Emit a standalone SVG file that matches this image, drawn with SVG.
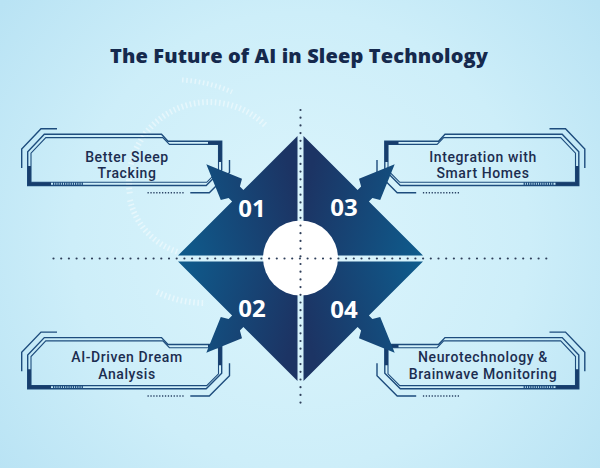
<svg xmlns="http://www.w3.org/2000/svg" xmlns:xlink="http://www.w3.org/1999/xlink" width="600" height="468" viewBox="0 0 600 468">
<style>
.fl{fill:none;stroke:#1d4c7d;stroke-width:1.4;stroke-linejoin:miter}
.fl2{fill:none;stroke:#1d4c7d;stroke-width:1.1}
.thick{fill:none;stroke:#173d6c;stroke-width:3.3;stroke-linecap:butt}
.hatch{fill:none;stroke:#1d4c7d;stroke-width:3.3;stroke-dasharray:1.3 0.9}
.dotb{fill:none;stroke:#2b4466;stroke-width:1.6;stroke-dasharray:1.3 1.6}
.axis{fill:none;stroke:#2f3f5a;stroke-width:2.2;stroke-linecap:round;stroke-dasharray:0 7.7}
.lbl{font-family:Roboto,"Liberation Sans",sans-serif;font-size:14px;font-weight:500;letter-spacing:0.6px;fill:#1c2d50;text-anchor:middle}
.num{font-family:"Open Sans","Liberation Sans",sans-serif;font-size:24px;font-weight:700;fill:#ffffff;text-anchor:middle}
.title{font-family:"Open Sans","Liberation Sans",sans-serif;font-size:20px;font-weight:800;fill:#15294d;text-anchor:middle}
.ring{fill:none;stroke:#ffffff;stroke-opacity:0.45}
</style>
<defs>
<radialGradient id="bg" cx="300" cy="240" r="380" gradientUnits="userSpaceOnUse">
<stop offset="0" stop-color="#dcf5fc"/>
<stop offset="0.6" stop-color="#cdeef9"/>
<stop offset="1" stop-color="#b9e3f4"/>
</radialGradient>
<linearGradient id="qg" gradientUnits="userSpaceOnUse" x1="178" y1="230" x2="297.5" y2="200">
<stop offset="0" stop-color="#0f5a8b"/>
<stop offset="1" stop-color="#1c3464"/>
</linearGradient>
<path id="quad" fill="url(#qg)" d="M297.5,136 L243.4,190.1 L239.9,186.6 L242,178.8 L206.3,164.3 L220.8,200 L228.6,197.9 L232.1,201.4 L178,255.5 L297.5,255.5 Z"/>
<g id="frameL">
<path class="fl" d="M27.7,185.5 V151.7 L44.3,134.3 H161.5 L168,141.2 H221.7 V170 L206.2,185.5 Z"/>
<path class="fl2" d="M31,182.3 V153.2 L45.8,137.6 H162.8 L169.4,144.4 H218.5 V170.5 L206.7,182.3 Z"/>
<path class="fl" d="M21.7,168 V149 L41,128.8 H57"/>
<path class="fl" d="M229.5,160 V172.5 L209.3,192.7 H190.3"/>
<path class="dotb" d="M147.5,192.7 H185"/>
<path class="thick" d="M208,142.8 H220.1 V162"/>
<path class="thick" d="M29.3,166 V183.9 H51"/>
<path class="hatch" d="M53,183.9 H83"/>
</g>
</defs>
<rect x="0" y="0" width="600" height="468" fill="url(#bg)"/>
<g id="decor">
<path class="ring" stroke-width="6" stroke-dasharray="1.6 2.6" d="M265,125 A80,80 0 0 0 130,195"/>
<path class="ring" stroke-width="6" stroke-dasharray="1.6 2.6" d="M130,200 A72,72 0 0 0 178,252"/>
<path class="ring" stroke-width="6" stroke-dasharray="1.6 2.6" d="M157,292 A110,110 0 0 0 205,303"/>
<path class="ring" stroke-width="5" stroke-dasharray="1.6 2.6" d="M182,80 A140,140 0 0 1 232,92"/>
</g>
<text class="title" x="299" y="63" textLength="378">The Future of AI in Sleep Technology</text>
<g id="node-better-sleep-tracking">
<use xlink:href="#frameL"/>
<text class="lbl" x="127" y="161.5">Better Sleep</text>
<text class="lbl" x="127" y="178.3">Tracking</text>
</g>
<g id="node-ai-driven-dream-analysis">
<use xlink:href="#frameL" transform="translate(0,203.3)"/>
<text class="lbl" x="127" y="362">AI-Driven Dream</text>
<text class="lbl" x="127" y="378.8">Analysis</text>
</g>
<g id="node-integration-smart-homes">
<use xlink:href="#frameL" transform="matrix(-1,0,0,1,606.5,0)"/>
<text class="lbl" x="483" y="161.5">Integration with</text>
<text class="lbl" x="483" y="178.3">Smart Homes</text>
</g>
<g id="node-neurotechnology">
<use xlink:href="#frameL" transform="matrix(-1,0,0,1,606.5,203.3)"/>
<text class="lbl" x="483" y="362">Neurotechnology &amp;</text>
<text class="lbl" x="483" y="378.8">Brainwave Monitoring</text>
</g>
<g id="q01">
<use xlink:href="#quad"/>
<text class="num" x="252" y="217">01</text>
</g>
<g id="q03">
<use xlink:href="#quad" transform="matrix(-1,0,0,1,601,0)"/>
<text class="num" x="344" y="216">03</text>
</g>
<g id="q02">
<use xlink:href="#quad" transform="matrix(1,0,0,-1,0,517)"/>
<text class="num" x="252" y="316.5">02</text>
</g>
<g id="q04">
<use xlink:href="#quad" transform="matrix(-1,0,0,-1,601,517)"/>
<text class="num" x="344" y="317.5">04</text>
</g>
<g id="hub">
<circle cx="300.5" cy="258" r="37.5" fill="#ffffff"/>
</g>
<g id="connectors">
<path class="axis" d="M53.5,258.5 H548"/>
<path class="axis" d="M300.5,110 V403"/>
</g>
</svg>
